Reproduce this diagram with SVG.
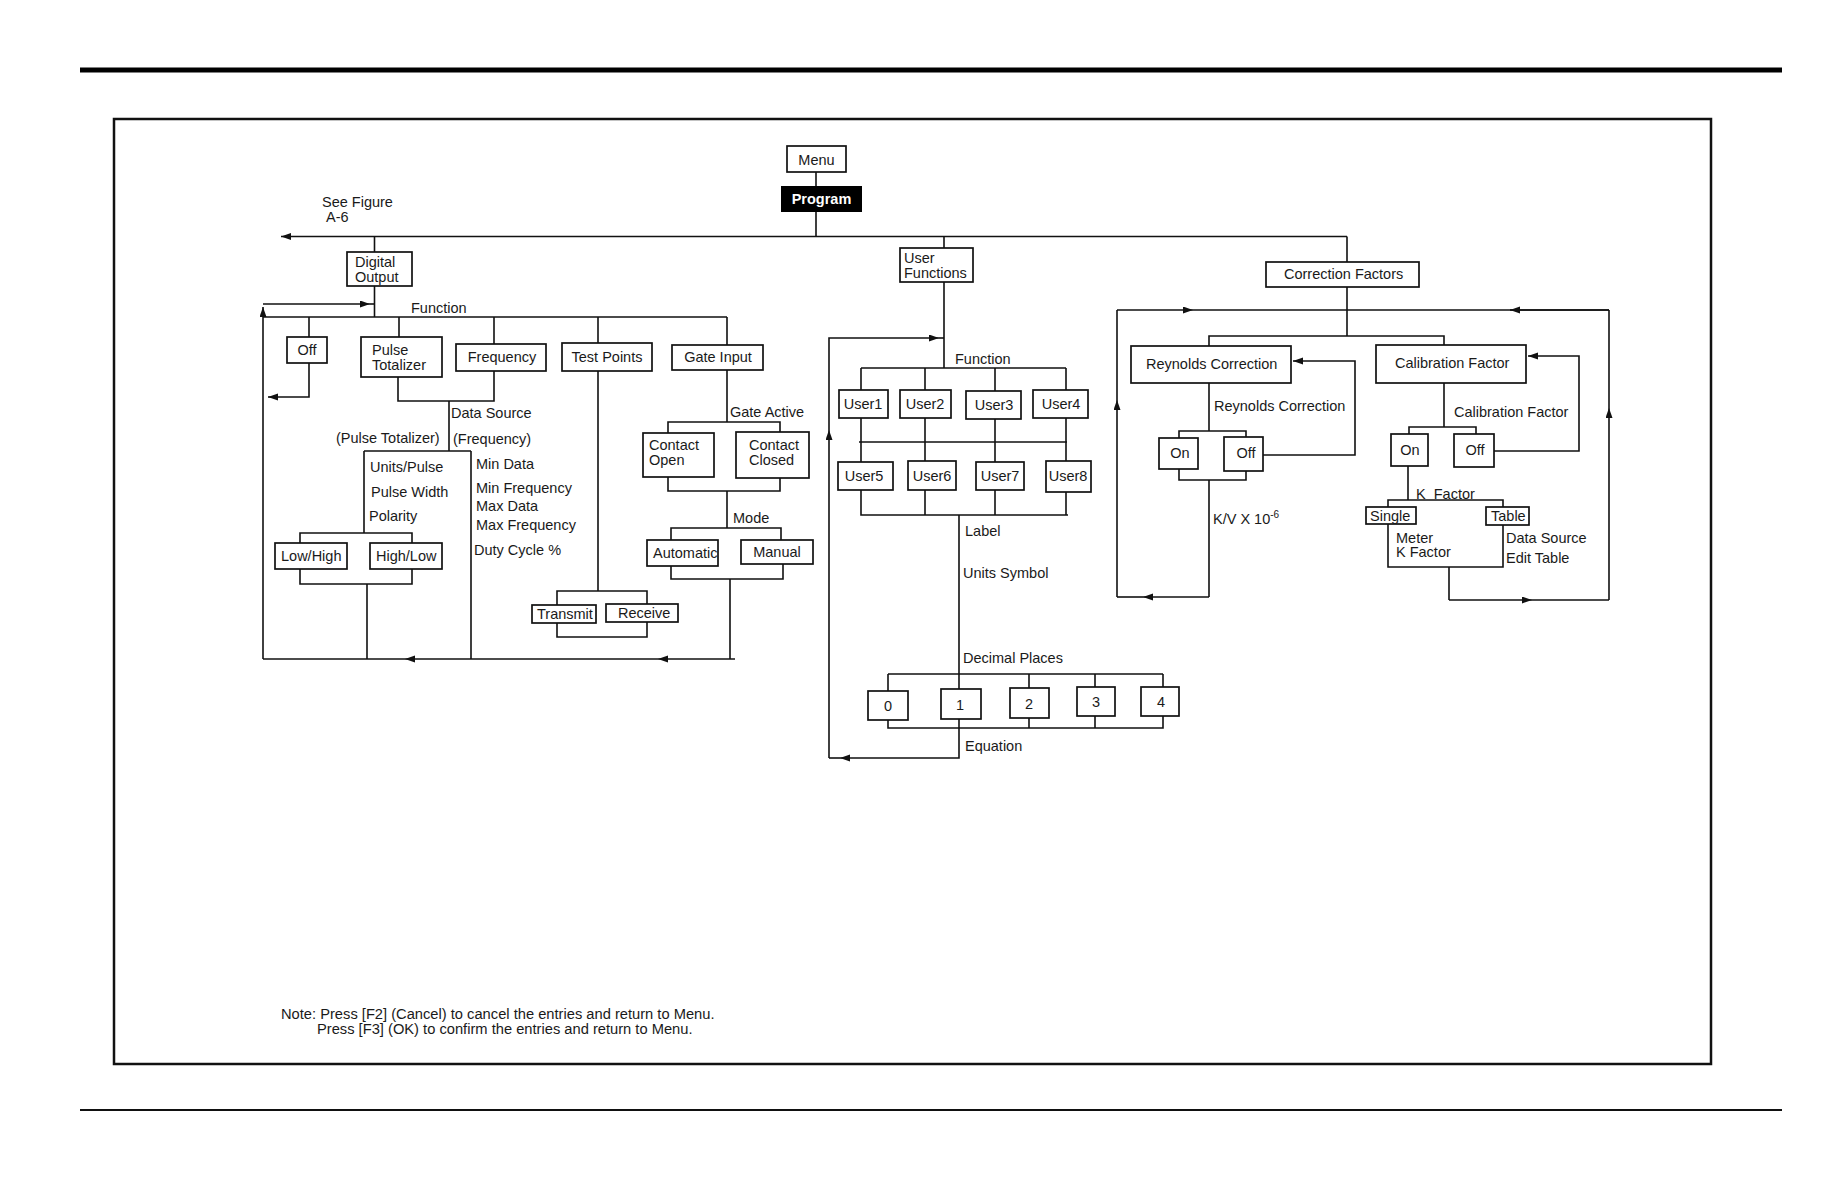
<svg xmlns="http://www.w3.org/2000/svg" width="1836" height="1188" viewBox="0 0 1836 1188">
<style>
.bx{fill:#fff;stroke:#111;stroke-width:1.7}
.ln{fill:none;stroke:#111;stroke-width:1.6}
.t{font-family:"Liberation Sans",Arial,sans-serif;font-size:14.5px;fill:#1a1a1a}
.c{text-anchor:middle}
.w{fill:#fff;font-weight:bold}
</style>
<defs>
<marker id="ah" markerUnits="userSpaceOnUse" markerWidth="12" markerHeight="8" refX="10" refY="3.5" orient="auto">
<path d="M0,0 L10,3.5 L0,7 z" fill="#111"/>
</marker>
</defs>
<rect width="1836" height="1188" fill="#fff"/>
<line x1="80" y1="70" x2="1782" y2="70" stroke="#000" stroke-width="5"/>
<line x1="80" y1="1110" x2="1782" y2="1110" stroke="#111" stroke-width="2"/>
<rect x="114" y="119" width="1597" height="945" fill="none" stroke="#111" stroke-width="2.5"/>

<g id="connectors" class="ln">
<!-- main -->
<path d="M816,212 V236.5 M1347,236.5 H281" marker-end="url(#ah)"/>
<path d="M374.5,236.5 V252 M374.5,286 V317 M944,236.5 V248 M944,282 V368 M1347,236.5 V262"/>
<path d="M816,172 V186"/>
<!-- digital output -->
<path d="M263,317 H727 M309,317 V337 M399,317 V337 M494,317 V344 M598,317 V343 M727,317 V345"/>
<path d="M263,304 H370" marker-end="url(#ah)"/>
<path d="M370,304 H374.5"/>
<path d="M263,659 V307" marker-end="url(#ah)"/>
<path d="M309,363 V397 H268" marker-end="url(#ah)"/>
<path d="M398,377 V401 H494 V371 M449,401 V451 M364,451 H471 M364,451 V533 M471,451 V659"/>
<path d="M300,543 V533 H412 V543 M300,569 V584 H412 V569 M367,584 V659"/>
<path d="M735,659 H658" marker-end="url(#ah)"/>
<path d="M658,659 H405" marker-end="url(#ah)"/>
<path d="M405,659 H263"/>
<path d="M598,371 V591 M557,605 V591 H647 V604 M557,623 V637 H647 V622"/>
<path d="M727,370 V422 M668,433 V422 H780 V432 M668,477 V491 H780 V478 M727,491 V528 M671,540 V528 H781 V540 M671,566 V579 H783 V564 M730,579 V659"/>
<!-- user functions -->
<path d="M829,758 V430" marker-end="url(#ah)"/>
<path d="M829,430 V338 H939" marker-end="url(#ah)"/>
<path d="M939,338 H944"/>
<path d="M861,368 H1066 M861,368 V390 M925,368 V390 M995,368 V391 M1066,368 V390"/>
<path d="M859,442 H1067 M861,418 V462 M925,418 V461 M995,419 V462 M1066,418 V461"/>
<path d="M861,490 V515 H1068 M925,490 V515 M995,490 V515 M1066,492 V515"/>
<path d="M959,515 V689 M888,674 H1163 M888,674 V691 M1029,674 V688 M1095,674 V687 M1163,674 V687"/>
<path d="M888,720 V728 H1163 V716 M1029,718 V728 M1095,716 V728 M959,719 V758 H840" marker-end="url(#ah)"/>
<path d="M840,758 H829"/>
<!-- correction -->
<path d="M1347,287 V336 M1209,346 V336 H1444 V345"/>
<path d="M1117,310 H1193" marker-end="url(#ah)"/>
<path d="M1193,310 H1609"/>
<path d="M1609,310 H1510" marker-end="url(#ah)"/>
<path d="M1117,597 V400" marker-end="url(#ah)"/>
<path d="M1117,400 V310"/>
<path d="M1209,597 H1143" marker-end="url(#ah)"/>
<path d="M1143,597 H1117"/>
<path d="M1609,600 V408" marker-end="url(#ah)"/>
<path d="M1609,408 V310"/>
<path d="M1449,600 H1532" marker-end="url(#ah)"/>
<path d="M1532,600 H1609"/>
<path d="M1209,383 V431 M1179,438 V431 H1246 V437 M1179,469 V480 H1246 V471 M1209,480 V597"/>
<path d="M1263,455 H1355 V361 H1293" marker-end="url(#ah)"/>
<path d="M1444,383 V427 M1409,434 V427 H1476 V434"/>
<path d="M1494,451 H1579 V356 H1528" marker-end="url(#ah)"/>
<path d="M1408,466 V500 M1388,507 V500 H1503 V507 M1388,524 V567 H1503 V525 M1449,567 V600"/>
</g>

<g id="menu"><rect class="bx" x="787" y="146" width="59" height="26"/><text class="t c" x="816.5" y="164.5">Menu</text></g>
<g id="program"><rect x="781" y="186" width="81" height="26" fill="#000"/><text class="t c w" x="821.5" y="204">Program</text></g>
<text class="t" x="322" y="207">See Figure</text>
<text class="t" x="326" y="222">A-6</text>

<g id="digital-output"><rect class="bx" x="347" y="252" width="65" height="34"/><text class="t" x="355" y="267">Digital</text><text class="t" x="355" y="282">Output</text></g>
<text class="t" x="411" y="313">Function</text>
<g id="off"><rect class="bx" x="287" y="337" width="40" height="26"/><text class="t c" x="307" y="355">Off</text></g>
<g id="pulse-totalizer"><rect class="bx" x="361" y="337" width="81" height="40"/><text class="t" x="372" y="355">Pulse</text><text class="t" x="372" y="370">Totalizer</text></g>
<g id="frequency"><rect class="bx" x="456" y="344" width="90" height="27"/><text class="t c" x="502" y="362">Frequency</text></g>
<g id="test-points"><rect class="bx" x="562" y="343" width="90" height="28"/><text class="t c" x="607" y="362">Test Points</text></g>
<g id="gate-input"><rect class="bx" x="672" y="345" width="91" height="25"/><text class="t c" x="718" y="362">Gate Input</text></g>
<text class="t" x="451" y="418">Data Source</text>
<text class="t" x="336" y="443">(Pulse Totalizer)</text>
<text class="t" x="453" y="444">(Frequency)</text>
<text class="t" x="370" y="472">Units/Pulse</text>
<text class="t" x="371" y="497">Pulse Width</text>
<text class="t" x="369" y="521">Polarity</text>
<text class="t" x="476" y="469">Min Data</text>
<text class="t" x="476" y="493">Min Frequency</text>
<text class="t" x="476" y="511">Max Data</text>
<text class="t" x="476" y="530">Max Frequency</text>
<text class="t" x="474" y="555">Duty Cycle %</text>
<g id="low-high"><rect class="bx" x="275" y="543" width="72" height="26"/><text class="t" x="281" y="561">Low/High</text></g>
<g id="high-low"><rect class="bx" x="370" y="543" width="72" height="26"/><text class="t" x="376" y="561">High/Low</text></g>
<g id="transmit"><rect class="bx" x="532" y="605" width="64" height="18"/><text class="t" x="537" y="619">Transmit</text></g>
<g id="receive"><rect class="bx" x="606" y="604" width="72" height="18"/><text class="t" x="618" y="618">Receive</text></g>
<text class="t" x="730" y="417">Gate Active</text>
<g id="contact-open"><rect class="bx" x="643" y="433" width="71" height="44"/><text class="t" x="649" y="450">Contact</text><text class="t" x="649" y="465">Open</text></g>
<g id="contact-closed"><rect class="bx" x="736" y="432" width="73" height="46"/><text class="t" x="749" y="450">Contact</text><text class="t" x="749" y="465">Closed</text></g>
<text class="t" x="733" y="523">Mode</text>
<g id="automatic"><rect class="bx" x="647" y="540" width="71" height="26"/><text class="t" x="653" y="558">Automatic</text></g>
<g id="manual"><rect class="bx" x="741" y="540" width="72" height="24"/><text class="t c" x="777" y="557">Manual</text></g>

<g id="user-functions"><rect class="bx" x="900" y="248" width="73" height="34"/><text class="t" x="904" y="263">User</text><text class="t" x="904" y="278">Functions</text></g>
<text class="t" x="955" y="364">Function</text>
<g id="user1"><rect class="bx" x="839" y="390" width="49" height="28"/><text class="t c" x="863" y="409">User1</text></g>
<g id="user2"><rect class="bx" x="900" y="390" width="51" height="28"/><text class="t c" x="925" y="409">User2</text></g>
<g id="user3"><rect class="bx" x="966" y="391" width="55" height="28"/><text class="t c" x="994" y="410">User3</text></g>
<g id="user4"><rect class="bx" x="1033" y="390" width="55" height="28"/><text class="t c" x="1061" y="409">User4</text></g>
<g id="user5"><rect class="bx" x="838" y="462" width="55" height="28"/><text class="t c" x="864" y="481">User5</text></g>
<g id="user6"><rect class="bx" x="908" y="461" width="48" height="29"/><text class="t c" x="932" y="481">User6</text></g>
<g id="user7"><rect class="bx" x="976" y="462" width="48" height="28"/><text class="t c" x="1000" y="481">User7</text></g>
<g id="user8"><rect class="bx" x="1046" y="461" width="45" height="31"/><text class="t c" x="1068" y="481">User8</text></g>
<text class="t" x="965" y="536">Label</text>
<text class="t" x="963" y="578">Units Symbol</text>
<text class="t" x="963" y="663">Decimal Places</text>
<g id="dp0"><rect class="bx" x="868" y="691" width="40" height="29"/><text class="t c" x="888" y="711">0</text></g>
<g id="dp1"><rect class="bx" x="941" y="689" width="40" height="30"/><text class="t c" x="960" y="710">1</text></g>
<g id="dp2"><rect class="bx" x="1010" y="688" width="39" height="30"/><text class="t c" x="1029" y="709">2</text></g>
<g id="dp3"><rect class="bx" x="1077" y="687" width="38" height="29"/><text class="t c" x="1096" y="707">3</text></g>
<g id="dp4"><rect class="bx" x="1141" y="687" width="38" height="29"/><text class="t c" x="1161" y="707">4</text></g>
<text class="t" x="965" y="751">Equation</text>

<g id="correction-factors"><rect class="bx" x="1266" y="262" width="153" height="25"/><text class="t" x="1284" y="279">Correction Factors</text></g>
<g id="reynolds-correction"><rect class="bx" x="1131" y="346" width="160" height="37"/><text class="t" x="1146" y="369">Reynolds Correction</text></g>
<g id="calibration-factor"><rect class="bx" x="1376" y="345" width="150" height="38"/><text class="t" x="1395" y="368">Calibration Factor</text></g>
<text class="t" x="1214" y="411">Reynolds Correction</text>
<g id="rey-on"><rect class="bx" x="1159" y="438" width="39" height="31"/><text class="t c" x="1180" y="458">On</text></g>
<g id="rey-off"><rect class="bx" x="1224" y="437" width="39" height="34"/><text class="t c" x="1246" y="458">Off</text></g>
<text class="t" x="1213" y="524">K/V X 10<tspan font-size="10" dy="-6">-6</tspan></text>
<text class="t" x="1454" y="417">Calibration Factor</text>
<g id="cal-on"><rect class="bx" x="1391" y="434" width="37" height="32"/><text class="t c" x="1410" y="455">On</text></g>
<g id="cal-off"><rect class="bx" x="1454" y="434" width="40" height="33"/><text class="t c" x="1475" y="455">Off</text></g>
<text class="t" x="1416" y="499" xml:space="preserve">K  Factor</text>
<g id="single"><rect class="bx" x="1366" y="507" width="50" height="17"/><text class="t" x="1370" y="521">Single</text></g>
<g id="table"><rect class="bx" x="1486" y="507" width="43" height="18"/><text class="t" x="1491" y="521">Table</text></g>
<text class="t" x="1396" y="543">Meter</text>
<text class="t" x="1396" y="557">K Factor</text>
<text class="t" x="1506" y="543">Data Source</text>
<text class="t" x="1506" y="563">Edit Table</text>

<text class="t" x="281" y="1019" style="font-size:14.7px">Note: Press [F2] (Cancel) to cancel the entries and return to Menu.</text>
<text class="t" x="317" y="1034" style="font-size:14.7px">Press [F3] (OK) to confirm the entries and return to Menu.</text>
</svg>
